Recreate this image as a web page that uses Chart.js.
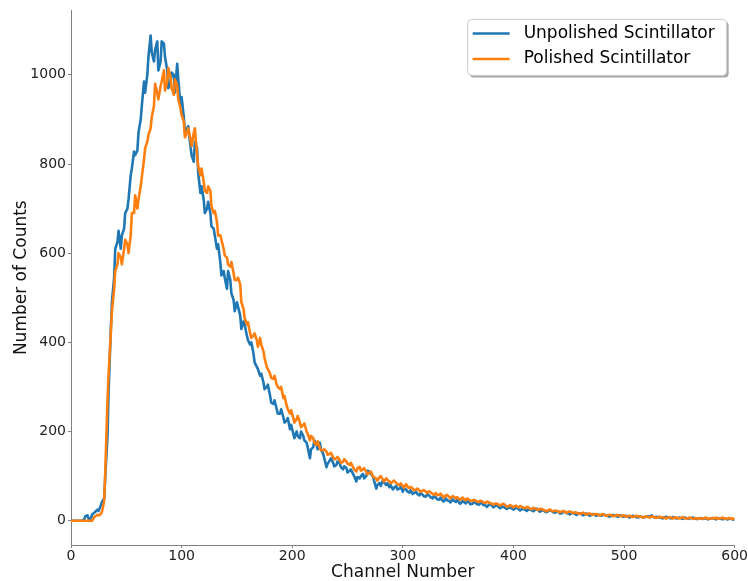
<!DOCTYPE html>
<html><head><meta charset="utf-8">
<script src="https://cdn.jsdelivr.net/npm/chart.js@4/dist/chart.umd.min.js"></script>
<style>html,body{margin:0;padding:0;background:#fff}canvas{display:block}</style>
</head><body>
<canvas id="c" width="748" height="581"></canvas>
<script>
// Channel samples (every 3rd channel)
const channels = [
0,3,6,9,12,15,18,21,24,27,
30,33,36,39,42,45,48,51,54,57,
60,63,66,69,72,75,78,81,84,87,
90,93,96,99,102,105,108,111,114,117,
120,123,126,129,132,135,138,141,144,147,
150,153,156,159,162,165,168,171,174,177,
180,183,186,189,192,195,198,201,204,207,
210,213,216,219,222,225,228,231,234,237,
240,243,246,249,252,255,258,261,264,267,
270,273,276,279,282,285,288,291,294,297,
300,303,306,309,312,315,318,321,324,327,
330,333,336,339,342,345,348,351,354,357,
360,363,366,369,372,375,378,381,384,387,
390,393,396,399,402,405,408,411,414,417,
420,423,426,429,432,435,438,441,444,447,
450,453,456,459,462,465,468,471,474,477,
480,483,486,489,492,495,498,501,504,507,
510,513,516,519,522,525,528,531,534,537,
540,543,546,549,552,555,558,561,564,567,
570,573,576,579,582,585,588,591,594,597,
600];
const unpolished = [
0,0,0,0,3,12,5,18,25,35,
50,190,430,545,625,610,655,700,775,828,
830,900,985,1000,1088,1030,1075,1030,1070,1010,
985,1000,1025,930,905,880,840,805,835,735,
720,700,690,655,610,580,560,520,540,495,
490,460,447,415,395,375,345,325,310,300,
280,262,250,240,232,225,205,195,200,185,
190,175,140,165,170,175,150,120,135,130,
125,128,115,118,112,105,88,95,105,100,
110,100,72,85,90,80,75,70,78,72,
65,70,63,60,65,57,58,54,56,50,
52,47,45,50,44,48,42,40,44,39,
41,38,40,36,38,34,36,33,34,30,
32,28,30,27,28,25,27,24,26,23,
25,22,24,20,22,21,18,20,17,19,
16,18,15,16,14,15,13,14,12,14,
11,13,10,12,11,9,11,10,8,10,
9,7,9,8,10,12,7,8,6,8,
7,5,7,6,5,7,4,6,5,4,
6,5,3,5,4,6,4,5,3,4,
2];
const polished = [
0,0,0,0,0,0,0,8,13,15,
45,270,420,520,575,590,610,620,640,690,
700,750,810,850,880,930,960,975,1010,985,
995,955,975,925,895,870,855,870,820,775,
760,735,740,690,670,640,610,590,570,555,
540,530,475,440,420,415,405,410,380,345,
330,318,305,295,275,258,240,230,228,220,
215,200,180,185,170,163,158,155,150,142,
140,135,132,133,125,120,110,121,115,110,
108,100,95,98,92,95,88,88,85,80,
78,82,73,72,70,68,67,65,66,60,
62,58,55,57,53,55,50,48,52,46,
47,44,45,42,43,40,41,38,39,36,
37,34,33,32,34,30,31,28,29,26,
27,24,26,23,24,22,23,20,21,19,
20,18,19,16,17,15,16,14,15,13,
14,12,13,12,11,12,10,11,10,9,
10,9,8,9,8,9,7,8,7,6,
7,6,7,5,6,6,5,6,5,4,
5,6,4,5,5,4,6,4,5,4,
3];
// Intermediate channel samples
const midChannels = [
1,4,7,10,13,16,19,22,25,28,
31,34,37,40,43,46,49,52,55,58,
61,64,67,70,73,76,79,82,85,88,
91,94,97,100,103,106,109,112,115,118,
121,124,127,130,133,136,139,142,145,148,
151,154,157,160,163,166,169,172,175,178,
181,184,187,190,193,196,199,202,205,208,
211,214,217,220,223,226,229,232,235,238,
241,244,247,250,253,256,259,262,265,268,
271,274,277,280,283,286,289,292,295,298,
301,304,307,310,313,316,319,322,325,328,
331,334,337,340,343,346,349,352,355,358,
361,364,367,370,373,376,379,382,385,388,
391,394,397,400,403,406,409,412,415,418,
421,424,427,430,433,436,439,442,445,448,
451,454,457,460,463,466,469,472,475,478,
481,484,487,490,493,496,499,502,505,508,
511,514,517,520,523,526,529,532,535,538,
541,544,547,550,553,556,559,562,565,568,
571,574,577,580,583,586,589,592,595,598];
const unpolishedMid = [
0,0,0,0,10,4,14,20,22,42,
100,290,490,610,650,640,690,720,790,820,
870,930,960,1040,1050,1055,1010,1075,1040,970,
1005,960,990,950,870,885,820,850,780,750,
690,715,660,640,620,550,545,560,510,470,
480,430,440,405,400,355,340,330,295,305,
265,270,240,250,220,230,215,185,190,200,
180,165,160,180,160,160,140,128,140,122,
133,120,122,108,115,100,98,100,95,112,
105,90,80,78,86,84,80,74,70,76,
72,66,68,62,60,62,55,60,53,55,
48,52,43,46,41,45,47,38,42,44,
37,42,37,40,35,31,37,30,35,28,
31,26,29,25,30,23,26,22,25,21,
27,20,23,19,24,19,21,16,21,17,
14,17,13,17,12,16,11,15,11,12,
14,11,9,13,10,12,9,11,7,11,
8,10,7,9,8,9,9,7,5,9,
6,8,5,7,4,6,5,7,4,5,
4,6,4,6,3,5,3,4,5,3];
const polishedMid = [
0,0,0,0,0,0,0,10,12,20,
110,330,470,560,600,575,630,600,690,730,
720,770,835,865,905,980,945,985,965,1015,
970,990,945,910,860,880,840,880,795,790,
740,750,705,695,640,630,595,575,580,540,
545,490,455,445,410,420,390,395,365,340,
320,325,300,300,280,250,248,220,235,210,
218,195,190,175,178,158,160,148,152,138,
143,130,138,128,130,115,118,112,118,104,
110,97,90,100,88,92,84,90,82,84,
74,77,76,68,72,65,69,62,64,58,
57,61,52,58,50,54,53,47,49,50,
45,47,43,45,41,43,39,36,38,34,
38,31,35,30,32,33,29,31,27,29,
25,27,24,21,25,21,22,19,22,18,
21,17,18,15,18,14,16,13,15,12,
15,11,13,10,13,11,12,9,11,8,
11,10,7,10,7,10,6,9,8,5,
8,5,7,6,8,5,7,4,6,6,
4,7,5,6,7,5,7,5,6,5];

const seriesLabels = ['Unpolished Scintillator', 'Polished Scintillator'];
const seriesColors = ['#1f77b4', '#ff7f0e'];
const xTicks = [0, 100, 200, 300, 400, 500, 600];
const yTicks = [0, 200, 400, 600, 800, 1000];

const FONT = "'DejaVu Sans', 'Liberation Sans', sans-serif";

function toPoints(xs, ys, xs2, ys2) {
  const a = xs.map((x, i) => ({x: x, y: ys[i]}));
  const b = xs2.map((x, i) => ({x: x, y: ys2[i]}));
  return a.concat(b).sort((p, q) => p.x - q.x);
}

const legendBox = {
  id: 'legendBox',
  afterDraw(chart) {
    const ctx = chart.ctx;
    const ca = chart.chartArea;
    const w = 259, h = 56, r = 4;
    const x = ca.right - 8 - w, y = ca.top + 9;
    ctx.save();
    function rr(px, py) {
      ctx.beginPath();
      ctx.moveTo(px + r, py);
      ctx.lineTo(px + w - r, py);
      ctx.quadraticCurveTo(px + w, py, px + w, py + r);
      ctx.lineTo(px + w, py + h - r);
      ctx.quadraticCurveTo(px + w, py + h, px + w - r, py + h);
      ctx.lineTo(px + r, py + h);
      ctx.quadraticCurveTo(px, py + h, px, py + h - r);
      ctx.lineTo(px, py + r);
      ctx.quadraticCurveTo(px, py, px + r, py);
      ctx.closePath();
    }
    rr(x + 2, y + 2);
    ctx.fillStyle = 'rgba(0,0,0,0.35)';
    ctx.fill();
    rr(x, y);
    ctx.fillStyle = '#ffffff';
    ctx.fill();
    ctx.lineWidth = 1;
    ctx.strokeStyle = '#cccccc';
    ctx.stroke();
    ctx.font = '17px ' + FONT;
    ctx.textBaseline = 'middle';
    ctx.textAlign = 'left';
    const rows = [y + 14, y + 39.5];
    seriesLabels.forEach((lab, i) => {
      ctx.beginPath();
      ctx.moveTo(x + 5, rows[i]);
      ctx.lineTo(x + 42, rows[i]);
      ctx.strokeStyle = seriesColors[i];
      ctx.lineWidth = 2.5;
      ctx.stroke();
      ctx.fillStyle = '#000000';
      ctx.fillText(lab, x + 56, rows[i]);
    });
    ctx.restore();
  }
};

new Chart(document.getElementById('c'), {
  type: 'line',
  data: {
    datasets: [
      {
        label: seriesLabels[0],
        data: toPoints(channels, unpolished, midChannels, unpolishedMid),
        borderColor: seriesColors[0],
        borderWidth: 2.6,
        pointRadius: 0,
        tension: 0,
        fill: false,
        order: 1,
        borderJoinStyle: 'round'
      },
      {
        label: seriesLabels[1],
        data: toPoints(channels, polished, midChannels, polishedMid),
        borderColor: seriesColors[1],
        borderWidth: 2.6,
        pointRadius: 0,
        tension: 0,
        fill: false,
        order: 0,
        borderJoinStyle: 'round'
      }
    ]
  },
  options: {
    responsive: false,
    animation: false,
    devicePixelRatio: 1,
    layout: {padding: {top: 10, right: 13, left: 0, bottom: 0}},
    plugins: {legend: {display: false}, tooltip: {enabled: false}},
    scales: {
      x: {
        type: 'linear',
        min: 0, max: 600,
        afterBuildTicks: s => { s.ticks = xTicks.map(v => ({value: v})); },
        afterFit: s => { s.height = 36; },
        grid: {display: true, drawOnChartArea: false, drawTicks: true, tickLength: 3, color: '#808080'},
        border: {display: true, color: '#808080', width: 1},
        ticks: {font: {family: FONT, size: 14}, color: '#222222', padding: 0, maxRotation: 0, callback: v => String(v)},
        title: {display: true, text: 'Channel Number', font: {family: FONT, size: 17, lineHeight: 1}, color: '#111111', padding: {top: 0.5, bottom: 0}}
      },
      y: {
        type: 'linear',
        min: -54.5, max: 1144.5,
        afterBuildTicks: s => { s.ticks = yTicks.map(v => ({value: v})); },
        afterFit: s => { s.width = 71; },
        grid: {display: true, drawOnChartArea: false, drawTicks: true, tickLength: 3, color: '#808080'},
        border: {display: true, color: '#808080', width: 1},
        ticks: {font: {family: FONT, size: 14}, color: '#222222', padding: 2, callback: v => String(v)},
        title: {display: true, text: 'Number of Counts', font: {family: FONT, size: 17, lineHeight: 1}, color: '#111111', padding: {top: 13, bottom: 0}}
      }
    }
  },
  plugins: [legendBox]
});
</script>
</body></html>
